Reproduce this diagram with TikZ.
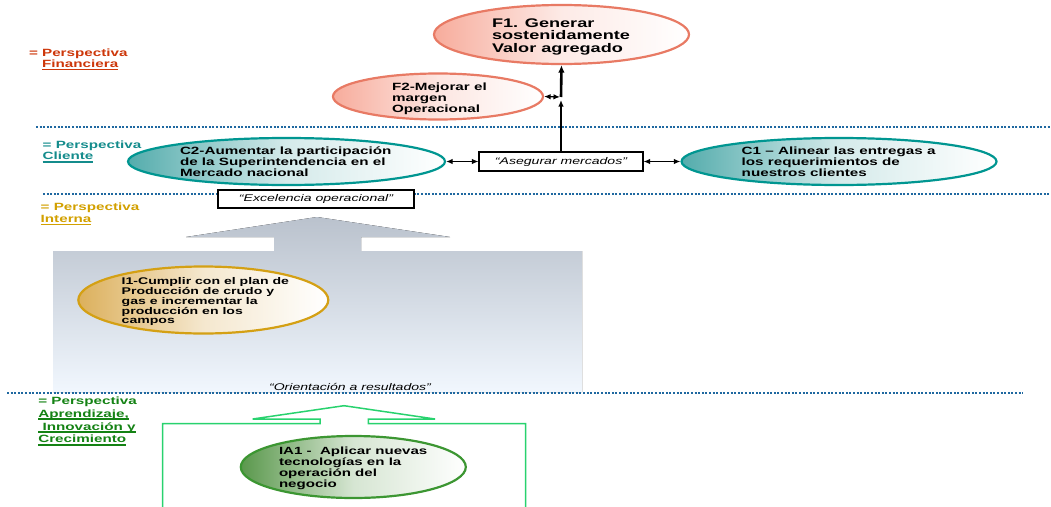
\documentclass[tikz,border=0pt]{standalone}
\usepackage{fontspec}
\setmainfont[FakeStretch=1.45]{Liberation Sans}
\usetikzlibrary{arrows.meta,shapes.geometric}

\definecolor{dotblue}{RGB}{31,104,160}
\definecolor{finred}{RGB}{205,55,10}
\definecolor{clteal}{RGB}{20,140,140}
\definecolor{intgold}{RGB}{210,160,0}
\definecolor{aprgreen}{RGB}{20,130,20}
\definecolor{salmonline}{RGB}{232,122,100}
\definecolor{salmonfill}{RGB}{247,172,156}
\definecolor{tealline}{RGB}{0,150,145}
\definecolor{tealfill}{RGB}{84,172,172}
\definecolor{goldline}{RGB}{212,160,20}
\definecolor{goldfill}{RGB}{220,176,92}
\definecolor{greenline}{RGB}{60,150,50}
\definecolor{greenfill}{RGB}{90,152,76}
\definecolor{arrowgreen}{RGB}{40,210,110}
\definecolor{greytop}{RGB}{186,194,205}
\definecolor{greybot}{RGB}{241,247,254}

% multi-line text block whose baseline is the first line
\newcommand\lines[2]{\vtop{\baselineskip=#1\lineskiplimit=-50pt\lineskip=0pt\halign{##\hfil\cr#2\crcr}}}
% thick underline
\newcommand\ulbar[1]{\setbox0\hbox{#1}\rlap{\rule[-2.6pt]{\wd0}{1.8pt}}\box0}

\tikzset{
  oval/.style={ellipse, draw, line width=2.2pt, inner sep=0pt},
  txt/.style={inner sep=0pt, outer sep=0pt, anchor=base west, font=\bfseries},
  tag/.style={draw=black, fill=white, line width=1.1pt, inner sep=0pt,
              font=\itshape\fontsize{9.7}{11}\selectfont},
  sep/.style={dotblue, line width=2pt, dash pattern=on 2pt off 1.6pt},
  dbl/.style={line width=1.2pt, {Latex[length=6.5pt,width=5.5pt]}-{Latex[length=6.5pt,width=5.5pt]}},
  sgl/.style={line width=1.3pt, -{Latex[length=6.5pt,width=5.5pt]}},
  heavy/.style={line width=2.6pt, -{Latex[length=7.5pt,width=6.5pt]}},
}

\begin{document}
\begin{tikzpicture}[x=1pt,y=-1pt]
\useasboundingbox (0,0) rectangle (1051,506);

% internal-perspective block arrow
\fill[top color=greytop, bottom color=greybot]
  (53,251) -- (274,251) -- (274,237) -- (186,237) -- (317,217) -- (450,237)
  -- (361,237) -- (361,251) -- (582,251) -- (582,392) -- (53,392) -- cycle;

% learning-perspective outlined arrow
\draw[arrowgreen, line width=1.5pt]
  (162.7,512) -- (162.7,423.7) -- (320,423.7) -- (320,419) -- (252.7,419)
  -- (344,405.7) -- (435,419) -- (368.3,419) -- (368.3,423.7) -- (525.7,423.7) -- (525.7,512);

% perspective separators
\draw[sep] (36,127) -- (1051,127);
\draw[sep] (43,194) -- (1051,194);
\draw[sep] (7,393) -- (1023,393);

% perspective labels
\node[txt, finred, font=\bfseries\fontsize{10.5}{11}\selectfont] (lfin) at (29,56.7)
  {\lines{11pt}{= Perspectiva\cr \hphantom{= }\ulbar{Financiera}}};
\node[txt, clteal, font=\bfseries\fontsize{10.5}{11}\selectfont] (lcli) at (42.7,148.3)
  {\lines{11.6pt}{= Perspectiva\cr \ulbar{Cliente}}};
\node[txt, intgold, font=\bfseries\fontsize{10.5}{11}\selectfont] (lint) at (40.7,210.7)
  {\lines{12pt}{= Perspectiva\cr \ulbar{Interna}}};
\node[txt, aprgreen, font=\bfseries\fontsize{10.5}{11}\selectfont] (lapr) at (38.3,404.5)
  {\lines{12.8pt}{= Perspectiva\cr \ulbar{Aprendizaje,}\cr \ulbar{\ Innovación y}\cr \ulbar{Crecimiento}}};

% objectives
\node[oval, draw=salmonline, left color=salmonfill, right color=white, middle color=salmonfill!25,
      minimum width=255pt, minimum height=59pt] (f1) at (561.5,34.5) {};
\node[oval, draw=salmonline, left color=salmonfill, right color=white, middle color=salmonfill!30,
      minimum width=210pt, minimum height=46pt] (f2) at (438,96.5) {};
\node[oval, draw=tealline, left color=tealfill, right color=white, middle color=tealfill!25,
      minimum width=317pt, minimum height=47pt] (c2) at (286.5,161.5) {};
\node[oval, draw=tealline, left color=tealfill, right color=white, middle color=tealfill!25,
      minimum width=315pt, minimum height=47pt] (c1) at (839,161.5) {};
\node[oval, draw=goldline, left color=goldfill, right color=white, middle color=goldfill!30,
      minimum width=250pt, minimum height=67pt] (i1) at (203.3,300) {};
\node[oval, draw=greenline, left color=greenfill, right color=white, middle color=greenfill!25,
      minimum width=225pt, minimum height=62pt] (ia1) at (353.3,467) {};

\node[txt, font=\bfseries\fontsize{12.5}{12.5}\selectfont] (f1t) at (492,27.3)
  {\lines{12.5pt}{F1. Generar\cr sostenidamente\cr Valor agregado}};
\node[txt, font=\bfseries\fontsize{10.5}{11}\selectfont] (f2t) at (392,90.8)
  {\lines{10.7pt}{F2-Mejorar el\cr margen\cr Operacional}};
\node[txt, font=\bfseries\fontsize{10.5}{11}\selectfont] (c2t) at (180,154.3)
  {\lines{11.3pt}{C2-Aumentar la participación\cr de la Superintendencia en el\cr Mercado nacional}};
\node[txt, font=\bfseries\fontsize{10.5}{11}\selectfont] (c1t) at (741.7,154.3)
  {\lines{11.3pt}{C1 – Alinear las entregas a\cr los requerimientos de\cr nuestros clientes}};
\node[txt, font=\bfseries\fontsize{9.7}{10}\selectfont] (i1t) at (121.7,284.3)
  {\lines{9.9pt}{I1-Cumplir con el plan de\cr Producción de crudo y\cr gas e incrementar la\cr producción en los\cr campos}};
\node[txt, font=\bfseries\fontsize{10.4}{11}\selectfont] (ia1t) at (279,454)
  {\lines{11.1pt}{IA1 -\ \ Aplicar nuevas\cr tecnologías en la\cr operación del\cr negocio}};

% themes
\node[tag, minimum width=164pt, minimum height=19pt] (as) at (561,161.5) {“Asegurar mercados”};
\node[tag, minimum width=196pt, minimum height=18pt] (ex) at (316,199) {“Excelencia operacional”};
\node[inner sep=0pt, anchor=base, font=\itshape\fontsize{9.7}{11}\selectfont] (or) at (350,390)
  {“Orientación a resultados”};

% cause–effect links
\coordinate (jn) at (561,97);
\coordinate (jt) at (561,100);
\coordinate (jl) at (560,97);
\draw[dbl] (c2.east) -- (as.west);
\draw[dbl] (as.east) -- (c1.west);
\draw[sgl] (as.north) -- (jt);
\draw[heavy] (jn) -- (f1.south);
\draw[dbl] (f2.east) -- (jl);
\end{tikzpicture}
\end{document}
